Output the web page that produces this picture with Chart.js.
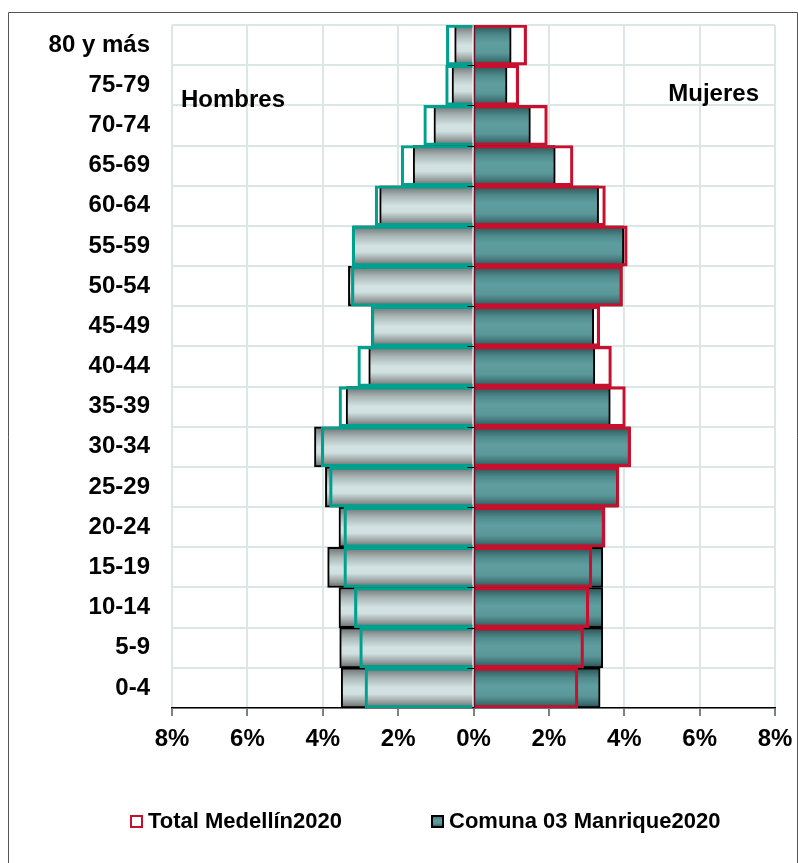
<!DOCTYPE html>
<html>
<head>
<meta charset="utf-8">
<script src="https://cdn.jsdelivr.net/npm/chart.js@4.4.1/dist/chart.umd.min.js"></script>
<style>
  body { margin: 0; background: #fff; }
</style>
</head>
<body>
<canvas id="chart" width="798" height="863"></canvas>
<script>
// grupos de edad, de arriba hacia abajo
var edades = ["80 y más", "75-79", "70-74", "65-69", "60-64", "55-59", "50-54", "45-49",
  "40-44", "35-39", "30-34", "25-29", "20-24", "15-19", "10-14", "5-9", "0-4"];

// Comuna 03 Manrique 2020 (% de la población)
var comunaHombres = [0.50, 0.57, 1.05, 1.60, 2.49, 3.19, 3.32, 2.71, 2.78, 3.38, 4.22, 3.93, 3.57, 3.87, 3.57, 3.55, 3.51];
var comunaMujeres = [1.00, 0.89, 1.51, 2.17, 3.32, 3.99, 3.95, 3.19, 3.22, 3.63, 4.16, 3.83, 3.49, 3.43, 3.43, 3.43, 3.36];

// Total Medellín 2020
var totalHombres = [0.72, 0.74, 1.32, 1.92, 2.61, 3.22, 3.24, 2.71, 3.07, 3.57, 4.04, 3.82, 3.44, 3.44, 3.16, 3.02, 2.88];
var totalMujeres = [1.41, 1.20, 1.96, 2.64, 3.50, 4.08, 3.95, 3.35, 3.66, 4.03, 4.17, 3.86, 3.48, 3.14, 3.06, 2.92, 2.77];

var xTicks = [-8, -6, -4, -2, 0, 2, 4, 6, 8];

Chart.defaults.font.family = "'Liberation Sans', Arial, sans-serif";
Chart.defaults.font.weight = "bold";
Chart.defaults.color = "#000";

var grisStops = [[0, "#6c6e6e"], [0.25, "#a9b6b6"], [0.5, "#d3e2e2"], [0.65, "#d0dfdf"], [0.85, "#979f9f"], [1, "#666868"]];
var tealStops = [[0, "#2c4f51"], [0.25, "#4e8a8c"], [0.45, "#5f9ea0"], [0.7, "#5a9799"], [0.88, "#3f7173"], [1, "#2b4c4e"]];

function bandGradient(ctx, stops) {
  var chart = ctx.chart;
  var y = chart.scales.y;
  if (!y || ctx.dataIndex === undefined) return stops[2][1];
  var h = (y.bottom - y.top) / edades.length;
  var c = y.getPixelForValue(ctx.dataIndex);
  if (!isFinite(h) || !isFinite(c) || h <= 0) return stops[2][1];
  var g = chart.ctx.createLinearGradient(0, c - h / 2, 0, c + h / 2);
  stops.forEach(function (s) { g.addColorStop(s[0], s[1]); });
  return g;
}

function neg(arr) { return arr.map(function (v) { return -v; }); }

var extras = {
  id: "extras",
  beforeDraw: function (chart) {
    var c = chart.ctx;
    c.save();
    c.strokeStyle = "#555";
    c.lineWidth = 1;
    c.beginPath();
    c.moveTo(8.5, 863);
    c.lineTo(8.5, 12.5);
    c.lineTo(797.5, 12.5);
    c.lineTo(797.5, 863);
    c.stroke();
    c.restore();
  },
  afterDatasetsDraw: function (chart) {
    var c = chart.ctx, x = chart.scales.x, y = chart.scales.y, a = chart.chartArea;
    var x0 = Math.round(x.getPixelForValue(0)) + 0.5;
    var h = (y.bottom - y.top) / edades.length;
    c.save();
    // eje central
    c.strokeStyle = "#6b0f24";
    c.lineWidth = 1.5;
    c.beginPath();
    c.moveTo(x0, a.top);
    c.lineTo(x0, a.bottom);
    c.stroke();
    c.strokeStyle = "#000";
    c.lineWidth = 1;
    for (var i = 1; i < edades.length; i++) {
      var yy = Math.round(y.top + i * h) + 0.5;
      c.beginPath();
      c.moveTo(x0 - 7, yy);
      c.lineTo(x0, yy);
      c.stroke();
    }
    // textos
    c.fillStyle = "#000";
    c.font = "bold 24px 'Liberation Sans', Arial, sans-serif";
    c.textBaseline = "alphabetic";
    c.textAlign = "left";
    c.fillText("Hombres", a.left + 9, 107);
    c.textAlign = "right";
    c.fillText("Mujeres", a.right - 16, 101);
    c.restore();
  },
  afterDraw: function (chart) {
    var c = chart.ctx;
    c.save();
    c.font = "bold 22px 'Liberation Sans', Arial, sans-serif";
    c.textBaseline = "middle";
    c.textAlign = "left";
    c.fillStyle = "#000";
    // leyenda
    c.strokeStyle = "#c8102e";
    c.lineWidth = 2;
    c.strokeRect(131, 816, 11, 11);
    c.fillText("Total Medellín2020", 148, 822);
    var g = c.createLinearGradient(0, 815, 0, 827);
    tealStops.forEach(function (s) { g.addColorStop(s[0], s[1]); });
    c.fillStyle = g;
    c.fillRect(432, 816, 11, 11);
    c.strokeStyle = "#000";
    c.strokeRect(432, 816, 11, 11);
    c.fillStyle = "#000";
    c.fillText("Comuna 03 Manrique2020", 449, 822);
    c.restore();
  }
};

var ctx = document.getElementById("chart").getContext("2d");
var chart = new Chart(ctx, {
  type: "bar",
  data: {
    labels: edades,
    datasets: [
      {
        label: "Comuna 03 Manrique2020",
        data: neg(comunaHombres),
        backgroundColor: function (c) { return bandGradient(c, grisStops); },
        borderColor: "#000",
        borderWidth: 2,
        order: 2
      },
      {
        label: "Comuna 03 Manrique2020",
        data: comunaMujeres,
        backgroundColor: function (c) { return bandGradient(c, tealStops); },
        borderColor: "#000",
        borderWidth: 2,
        order: 2
      },
      {
        label: "Total Medellín2020",
        data: neg(totalHombres),
        backgroundColor: "rgba(0,0,0,0)",
        borderColor: "#00a08f",
        borderWidth: 2.5,
        order: 1
      },
      {
        label: "Total Medellín2020",
        data: totalMujeres,
        backgroundColor: "rgba(0,0,0,0)",
        borderColor: "#c8102e",
        borderWidth: 2.5,
        order: 1
      }
    ]
  },
  options: {
    indexAxis: "y",
    responsive: false,
    animation: false,
    grouped: false,
    categoryPercentage: 1,
    barPercentage: 1,
    layout: { padding: { top: 25, right: 23, bottom: 0, left: 0 } },
    plugins: {
      legend: { display: false },
      tooltip: { enabled: false }
    },
    scales: {
      x: {
        min: -8,
        max: 8,
        afterBuildTicks: function (s) { s.ticks = xTicks.map(function (v) { return { value: v }; }); },
        afterFit: function (s) {
          s.height = 155;
          s.paddingLeft = 0; s.paddingRight = 0;
        },
        grid: { color: "#dbe7e7", lineWidth: 2, tickColor: "#000", tickLength: 8, tickWidth: 1 },
        border: { color: "#000", width: 1.5 },
        ticks: {
          padding: 9,
          font: { size: 24, weight: "bold" },
          callback: function (v) { return Math.abs(v) + "%"; }
        }
      },
      y: {
        afterFit: function (s) {
          s.width = 172;
          s.paddingTop = 0; s.paddingBottom = 0;
        },
        grid: { color: "#dbe7e7", lineWidth: 2, offset: true, drawTicks: false },
        border: { display: false },
        ticks: { padding: 22, font: { size: 24, weight: "bold" } }
      }
    }
  },
  plugins: [extras]
});
</script>
</body>
</html>
